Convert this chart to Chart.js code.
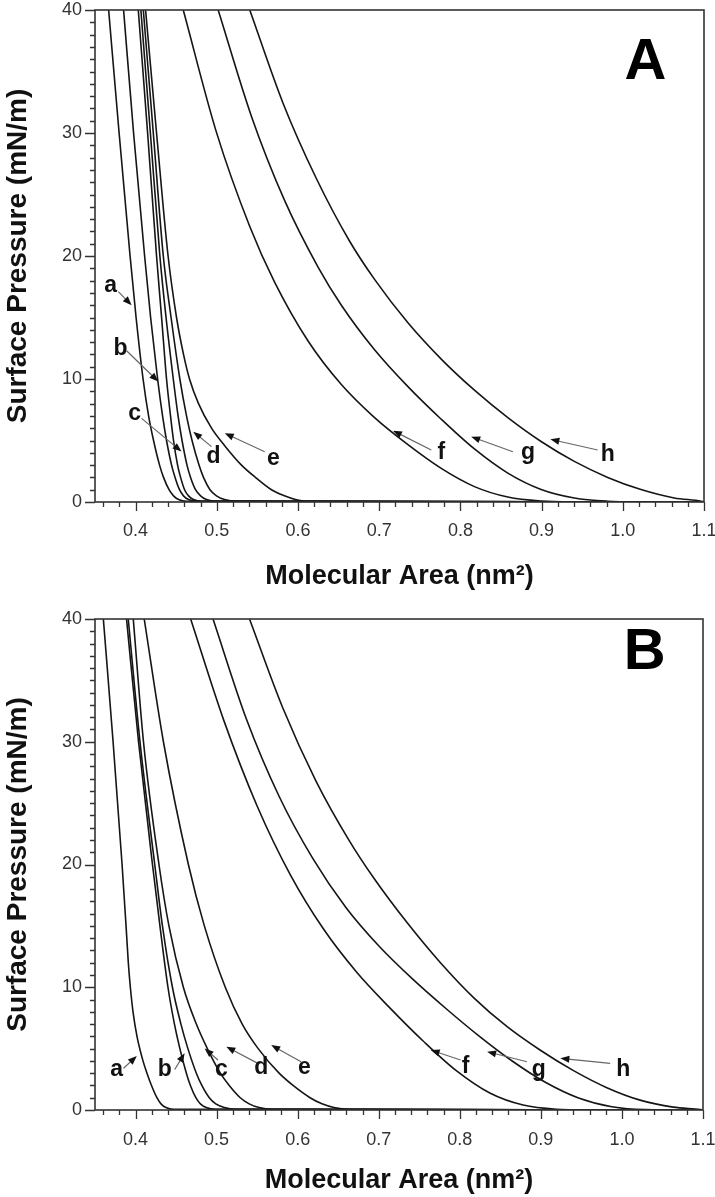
<!DOCTYPE html>
<html lang="en">
<head>
<meta charset="UTF-8" />
<title>Surface pressure - molecular area isotherms</title>
<script src="https://cdn.jsdelivr.net/npm/chart.js"></script>
<style>
  body { margin: 0; background: #fff; }
  canvas { display: block; }
</style>
</head>
<body>
<canvas id="chartA" width="715" height="600"></canvas>
<canvas id="chartB" width="715" height="597"></canvas>

<script>
  // axis ticks
  const xTicks = [0.4, 0.5, 0.6, 0.7, 0.8, 0.9, 1.0, 1.1];
  const yTicks = [0, 10, 20, 30, 40];

  // panel A isotherms: [molecular area (nm2), surface pressure (mN/m)]
  const curveA_a = [[0.3668,40],[0.3797,30],[0.3932,20],[0.4006,15],[0.4092,10],[0.4160,7],[0.4221,5],[0.4295,3],[0.4344,2],[0.4412,1],[0.4467,0.5],[0.4529,0.2],[0.4627,0.05],[1.1,0]];
  const curveA_b = [[0.3852,40],[0.3975,30],[0.4111,20],[0.4185,15],[0.4271,10],[0.4332,7],[0.4381,5],[0.4443,3],[0.4486,2],[0.4541,1],[0.4590,0.5],[0.4652,0.2],[0.4750,0.05],[1.1,0]];
  const curveA_c = [[0.4033,40],[0.4148,30],[0.4258,20],[0.4320,15],[0.4381,10],[0.4430,7],[0.4467,5],[0.4517,3],[0.4554,2],[0.4603,1],[0.4652,0.5],[0.4713,0.2],[0.4812,0.05],[1.1,0]];
  const curveA_d = [[0.4065,40],[0.4182,30],[0.4299,20],[0.4375,15],[0.4464,10],[0.4523,7],[0.4572,5],[0.4633,3],[0.4677,2],[0.4738,1],[0.4800,0.5],[0.4873,0.2],[0.4984,0.05],[1.1,0]];
  const curveA_d2 = [[0.4095,40],[0.4218,30],[0.4341,20],[0.4437,15],[0.4545,10],[0.4627,7],[0.4695,5],[0.4781,3],[0.4836,2],[0.4916,1],[0.4996,0.5],[0.5095,0.2],[0.5242,0.05],[1.1,0]];
  const curveA_e = [[0.4123,40],[0.4258,30],[0.4400,20],[0.4504,15],[0.4590,12],[0.4664,10],[0.4775,8],[0.4935,6],[0.5107,4.5],[0.5304,3],[0.5476,2],[0.5673,1],[0.5833,0.5],[0.5968,0.2],[0.6103,0.05],[1.1,0]];
  const curveA_f = [[0.4587,40],[0.4996,30.05],[0.5406,22.4],[0.5710,17.9],[0.6124,13.09],[0.6534,9.55],[0.6943,6.86],[0.7354,4.66],[0.7764,2.73],[0.8173,1.25],[0.8584,0.40],[0.8994,0.076],[0.9403,0.01],[1.1,0]];
  const curveA_g = [[0.5017,40],[0.5427,31.35],[0.5836,24.5],[0.6247,19.1],[0.6534,16.0],[0.6943,12.38],[0.7354,9.38],[0.7764,6.73],[0.8173,4.31],[0.8584,2.35],[0.8994,1.02],[0.9403,0.327],[0.9814,0.066],[1.0224,0.01],[1.1,0]];
  const curveA_h = [[0.5406,40],[0.5817,32.4],[0.6226,26.3],[0.6636,21.2],[0.6943,18.1],[0.7354,14.57],[0.7764,11.62],[0.8173,9.09],[0.8584,6.86],[0.8994,4.92],[0.9403,3.30],[0.9814,2.0],[1.0224,1.01],[1.0633,0.33],[1.0966,0.066],[1.1,0.01]];

  // panel B isotherms
  const curveB_a = [[0.3603,40],[0.3723,30],[0.3834,20],[0.3883,15],[0.3911,12],[0.3936,10],[0.3969,8],[0.4018,6],[0.4092,4],[0.4141,3],[0.4197,2],[0.4264,1],[0.4314,0.5],[0.4375,0.2],[0.4467,0.05],[1.1,0]];
  const curveB_b = [[0.3889,40],[0.4037,30],[0.4209,20],[0.4301,15],[0.4400,10],[0.4480,7],[0.4547,5],[0.4627,3],[0.4677,2],[0.4744,1],[0.4800,0.5],[0.4873,0.2],[0.4984,0.05],[1.1,0]];
  const curveB_c = [[0.3910,40],[0.4055,30],[0.4237,20],[0.4332,15],[0.4455,10],[0.4560,7],[0.4646,5],[0.4750,3],[0.4818,2],[0.4910,1],[0.4990,0.5],[0.5095,0.2],[0.5230,0.05],[1.1,0]];
  const curveB_d = [[0.3972,40],[0.4098,30],[0.4289,20],[0.4412,15],[0.4590,10],[0.4750,7],[0.4886,5],[0.5046,3],[0.5156,2],[0.5292,1],[0.5402,0.5],[0.5525,0.2],[0.5673,0.05],[1.1,0]];
  const curveB_e = [[0.4107,40],[0.4344,30],[0.4652,20],[0.4849,15],[0.5107,10],[0.5316,7],[0.5513,5],[0.5771,3],[0.5943,2],[0.6153,1],[0.6300,0.5],[0.6448,0.2],[0.6620,0.05],[1.1,0]];
  const curveB_f = [[0.4680,40],[0.5091,31.7],[0.5501,24.75],[0.5910,19.16],[0.6321,14.72],[0.6731,11.2],[0.7140,8.3],[0.7551,5.6],[0.7961,3.18],[0.8370,1.38],[0.8781,0.40],[0.9191,0.065],[0.9596,0.01],[1.1,0]];
  const curveB_g = [[0.4956,40],[0.5365,31.9],[0.5775,25.5],[0.6186,20.5],[0.6595,16.5],[0.7005,13.34],[0.7416,10.68],[0.7825,8.29],[0.8235,6.04],[0.8646,3.99],[0.9055,2.26],[0.9465,0.98],[0.9876,0.26],[1.0286,0.03],[1.1,0]];
  const curveB_h = [[0.5406,40],[0.5817,32.75],[0.6226,26.8],[0.6636,21.95],[0.6943,18.86],[0.7354,15.23],[0.7764,11.98],[0.8173,9.14],[0.8584,6.79],[0.8994,4.87],[0.9403,3.21],[0.9814,1.82],[1.0224,0.805],[1.0633,0.235],[1.0966,0.044],[1.1,0.01]];

  // curve labels with arrows, in data coordinates
  const notesA = [
    { text: 'a', at: [0.3692, 17.6], from: [0.3787, 17.1], to: [0.3951, 16.0] },
    { text: 'b', at: [0.3815, 12.5], from: [0.3889, 12.3], to: [0.4279, 9.8] },
    { text: 'c', at: [0.3988, 7.2], from: [0.4074, 6.8], to: [0.4566, 4.1] },
    { text: 'd', at: [0.4959, 3.66], from: [0.4935, 4.5], to: [0.471, 5.72] },
    { text: 'e', at: [0.5697, 3.5], from: [0.559, 4.09], to: [0.5098, 5.59] },
    { text: 'f', at: [0.7764, 3.98], from: [0.7641, 4.23], to: [0.717, 5.8] },
    { text: 'g', at: [0.8834, 3.98], from: [0.8646, 4.09], to: [0.8133, 5.31] },
    { text: 'h', at: [0.9814, 3.82], from: [0.9691, 4.23], to: [0.9108, 5.1] }
  ];
  const notesB = [
    { text: 'a', at: [0.3766, 3.26], from: [0.3852, 3.4], to: [0.4016, 4.4] },
    { text: 'b', at: [0.436, 3.3], from: [0.4483, 3.3], to: [0.4606, 4.62] },
    { text: 'c', at: [0.5058, 3.26], from: [0.5017, 4.07], to: [0.4853, 5.02] },
    { text: 'd', at: [0.555, 3.42], from: [0.5509, 3.8], to: [0.512, 5.16] },
    { text: 'e', at: [0.6082, 3.42], from: [0.6042, 3.93], to: [0.5673, 5.29] },
    { text: 'f', at: [0.8071, 3.53], from: [0.801, 4.07], to: [0.7641, 4.89] },
    { text: 'g', at: [0.8973, 3.26], from: [0.8829, 3.93], to: [0.8337, 4.75] },
    { text: 'h', at: [1.0018, 3.26], from: [0.9855, 3.8], to: [0.924, 4.21] }
  ];

  const FONT = 'Arial, "Liberation Sans", Helvetica, sans-serif';

  function drawArrow(ctx, x1, y1, x2, y2) {
    const ang = Math.atan2(y2 - y1, x2 - x1);
    const len = 9, half = 3.5;
    ctx.strokeStyle = '#666';
    ctx.lineWidth = 1.2;
    ctx.beginPath();
    ctx.moveTo(x1, y1);
    ctx.lineTo(x2 - Math.cos(ang) * len * 0.6, y2 - Math.sin(ang) * len * 0.6);
    ctx.stroke();
    ctx.fillStyle = '#111';
    ctx.beginPath();
    ctx.moveTo(x2, y2);
    ctx.lineTo(x2 - Math.cos(ang) * len + Math.sin(ang) * half, y2 - Math.sin(ang) * len - Math.cos(ang) * half);
    ctx.lineTo(x2 - Math.cos(ang) * len - Math.sin(ang) * half, y2 - Math.sin(ang) * len + Math.cos(ang) * half);
    ctx.closePath();
    ctx.fill();
  }

  // frame, minor/major ticks, curve labels and panel letter
  const decor = {
    id: 'decor',
    afterDatasetsDraw(chart, args, opts) {
      const { ctx, chartArea: area } = chart;
      const xs = chart.scales.x, ys = chart.scales.y;
      ctx.save();
      ctx.strokeStyle = '#333';
      ctx.lineWidth = 1.6;
      ctx.strokeRect(area.left, area.top, area.right - area.left, area.bottom - area.top);

      ctx.lineWidth = 1.3;
      ctx.beginPath();
      for (let i = 18; i <= 55; i++) {
        const px = Math.round(xs.getPixelForValue(i * 0.02)) + 0.5;
        const len = i % 5 === 0 ? 9 : 5;
        ctx.moveTo(px, area.bottom);
        ctx.lineTo(px, area.bottom + len);
      }
      for (let v = 0; v <= 40; v++) {
        const py = Math.round(ys.getPixelForValue(v)) + 0.5;
        const len = v % 10 === 0 ? 10 : 5;
        ctx.moveTo(area.left, py);
        ctx.lineTo(area.left - len, py);
      }
      ctx.stroke();

      ctx.textAlign = 'center';
      ctx.textBaseline = 'middle';
      for (const n of opts.notes) {
        drawArrow(ctx,
          xs.getPixelForValue(n.from[0]), ys.getPixelForValue(n.from[1]),
          xs.getPixelForValue(n.to[0]), ys.getPixelForValue(n.to[1]));
        ctx.fillStyle = '#111';
        ctx.font = 'bold 23px ' + FONT;
        ctx.fillText(n.text, xs.getPixelForValue(n.at[0]), ys.getPixelForValue(n.at[1]));
      }
      ctx.font = 'bold 58px ' + FONT;
      ctx.fillStyle = '#000';
      ctx.fillText(opts.panel, xs.getPixelForValue(opts.panelAt[0]), ys.getPixelForValue(opts.panelAt[1]));
      ctx.restore();
    }
  };

  function makeChart(id, curves, notes, panel, panelAt, box) {
    const datasets = curves.map(([name, pts]) => ({
      label: name,
      data: pts.map(([x, y]) => ({ x: x, y: y })),
      borderColor: '#151515',
      borderWidth: 1.6,
      pointRadius: 0,
      fill: false,
      cubicInterpolationMode: 'monotone'
    }));
    return new Chart(document.getElementById(id), {
      type: 'line',
      data: { datasets: datasets },
      plugins: [decor],
      options: {
        responsive: false,
        animation: false,
        layout: { padding: { top: box.top, right: box.right, left: 0, bottom: 0 } },
        plugins: {
          legend: { display: false },
          tooltip: { enabled: false },
          decor: { notes: notes, panel: panel, panelAt: panelAt }
        },
        scales: {
          x: {
            type: 'linear',
            min: 0.35,
            max: 1.1,
            afterFit: s => { s.height = box.xHeight; s.paddingLeft = 0; s.paddingRight = 0; },
            afterBuildTicks: s => { s.ticks = xTicks.map(v => ({ value: v })); },
            grid: { display: false, drawTicks: false },
            border: { display: false },
            ticks: {
              padding: box.xPad,
              color: '#333',
              font: { family: FONT, size: 18 },
              maxRotation: 0,
              callback: v => v.toFixed(1)
            },
            title: {
              display: true,
              text: 'Molecular Area (nm²)',
              color: '#111',
              font: { family: FONT, size: 27, weight: 'bold' },
              padding: { top: 0, bottom: box.xTitlePad }
            }
          },
          y: {
            type: 'linear',
            min: 0,
            max: 40,
            afterFit: s => { s.width = 95; s.paddingTop = 0; s.paddingBottom = 0; },
            afterBuildTicks: s => { s.ticks = yTicks.map(v => ({ value: v })); },
            grid: { display: false, drawTicks: false },
            border: { display: false },
            ticks: {
              padding: 13,
              color: '#333',
              font: { family: FONT, size: 18 },
              callback: v => String(v)
            },
            title: {
              display: true,
              text: 'Surface Pressure (mN/m)',
              color: '#111',
              font: { family: FONT, size: 28, weight: 'bold' },
              padding: { top: 1, bottom: 0 }
            }
          }
        }
      }
    });
  }

  makeChart('chartA', [
    ['a', curveA_a], ['b', curveA_b], ['c', curveA_c], ['d', curveA_d], ['', curveA_d2],
    ['e', curveA_e], ['f', curveA_f], ['g', curveA_g], ['h', curveA_h]
  ], notesA, 'A', [1.028, 35.7], { top: 10, right: 11, xHeight: 98, xPad: 18, xTitlePad: 7 });

  makeChart('chartB', [
    ['a', curveB_a], ['b', curveB_b], ['c', curveB_c], ['d', curveB_d],
    ['e', curveB_e], ['f', curveB_f], ['g', curveB_g], ['h', curveB_h]
  ], notesB, 'B', [1.028, 37.2], { top: 19, right: 12, xHeight: 87, xPad: 19, xTitlePad: 0 });
</script>
</body>
</html>
